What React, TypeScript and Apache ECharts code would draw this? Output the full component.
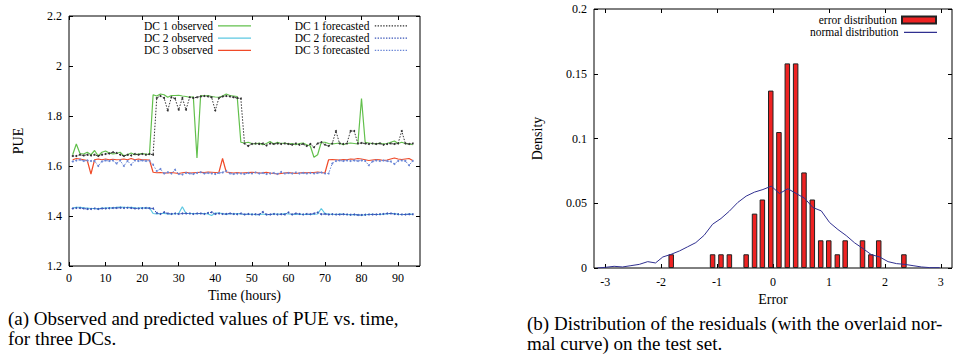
import React, { useEffect, useRef } from "react";
import * as echarts from "echarts";

const hours: number[] = Array.from({ length: 94 }, (_, i) => i + 1);

const dc1Observed = [
  1.645, 1.688, 1.65, 1.648, 1.655, 1.645, 1.662, 1.64, 1.655, 1.66,
  1.652, 1.648, 1.65, 1.655, 1.64, 1.645, 1.652, 1.645, 1.648, 1.65,
  1.648, 1.645, 1.885, 1.88, 1.888, 1.885, 1.875, 1.882, 1.882, 1.883,
  1.88, 1.878, 1.875, 1.877, 1.632, 1.882, 1.88, 1.882, 1.878, 1.876,
  1.875, 1.88, 1.888, 1.882, 1.88, 1.878, 1.695, 1.692, 1.695, 1.69,
  1.688, 1.692, 1.685, 1.69, 1.698, 1.688, 1.695, 1.69, 1.692, 1.688,
  1.69, 1.685, 1.69, 1.692, 1.685, 1.68, 1.635, 1.645, 1.695, 1.695,
  1.69, 1.688, 1.69, 1.692, 1.685, 1.69, 1.692, 1.69, 1.688, 1.87,
  1.695, 1.692, 1.69, 1.688, 1.692, 1.688, 1.69, 1.695, 1.7, 1.69,
  1.695, 1.69, 1.688, 1.685,
];
const dc1Forecast = [
  1.64, 1.64, 1.645, 1.642, 1.645, 1.642, 1.645, 1.64, 1.645, 1.648,
  1.65, 1.655, 1.652, 1.645, 1.64, 1.645, 1.642, 1.648, 1.645, 1.648,
  1.645, 1.648, 1.645, 1.872, 1.88, 1.872, 1.822, 1.875, 1.87, 1.825,
  1.872, 1.825, 1.875, 1.872, 1.875, 1.878, 1.88, 1.878, 1.875, 1.822,
  1.872, 1.878, 1.88, 1.878, 1.875, 1.872, 1.87, 1.69, 1.68, 1.688,
  1.69, 1.688, 1.69, 1.682, 1.69, 1.688, 1.69, 1.688, 1.69, 1.688,
  1.685, 1.69, 1.685, 1.688, 1.68, 1.688, 1.675, 1.69, 1.695, 1.685,
  1.68, 1.69, 1.74, 1.69, 1.688, 1.69, 1.74, 1.74, 1.69, 1.692,
  1.69, 1.688, 1.69, 1.688, 1.69, 1.685, 1.688, 1.69, 1.688, 1.69,
  1.74, 1.69, 1.688, 1.69,
];
const dc2Observed = [
  1.432, 1.435, 1.435, 1.433, 1.432, 1.43, 1.43, 1.428, 1.432, 1.432,
  1.433, 1.432, 1.435, 1.436, 1.435, 1.434, 1.435, 1.433, 1.432, 1.433,
  1.432, 1.433, 1.41, 1.408, 1.41, 1.41, 1.408, 1.408, 1.409, 1.41,
  1.437, 1.41, 1.41, 1.41, 1.409, 1.41, 1.41, 1.408, 1.402, 1.412,
  1.412, 1.41, 1.406, 1.41, 1.408, 1.41, 1.408, 1.407, 1.406, 1.408,
  1.405, 1.405, 1.408, 1.405, 1.406, 1.408, 1.408, 1.407, 1.41, 1.408,
  1.407, 1.406, 1.408, 1.406, 1.407, 1.406, 1.407, 1.408, 1.43, 1.41,
  1.408, 1.407, 1.406, 1.408, 1.407, 1.406, 1.405, 1.406, 1.405, 1.403,
  1.405, 1.406, 1.407, 1.406, 1.406, 1.408, 1.408, 1.41, 1.41, 1.407,
  1.406, 1.406, 1.408, 1.407,
];
const dc2Forecast = [
  1.43, 1.432, 1.432, 1.43, 1.428, 1.428, 1.43, 1.428, 1.43, 1.43,
  1.431, 1.432, 1.432, 1.433, 1.432, 1.433, 1.432, 1.43, 1.43, 1.431,
  1.432, 1.431, 1.43, 1.412, 1.408, 1.415, 1.41, 1.408, 1.41, 1.408,
  1.41, 1.41, 1.41, 1.408, 1.41, 1.41, 1.408, 1.412, 1.415, 1.408,
  1.41, 1.408, 1.408, 1.41, 1.408, 1.407, 1.41, 1.406, 1.408, 1.406,
  1.407, 1.406, 1.416, 1.406, 1.406, 1.408, 1.406, 1.407, 1.406, 1.414,
  1.406, 1.41, 1.408, 1.406, 1.408, 1.407, 1.41, 1.414, 1.407, 1.408,
  1.406, 1.407, 1.406, 1.406, 1.407, 1.406, 1.405, 1.406, 1.404, 1.404,
  1.405, 1.406, 1.406, 1.406, 1.407, 1.408, 1.41, 1.41, 1.408, 1.407,
  1.406, 1.406, 1.407, 1.407,
];
const dc3Observed = [
  1.625, 1.63, 1.628, 1.625, 1.622, 1.568, 1.625, 1.628, 1.625, 1.628,
  1.625, 1.627, 1.625, 1.626, 1.628, 1.625, 1.63, 1.625, 1.628, 1.625,
  1.625, 1.624, 1.575, 1.573, 1.574, 1.572, 1.572, 1.574, 1.572, 1.57,
  1.573, 1.575, 1.572, 1.573, 1.574, 1.575, 1.574, 1.576, 1.575, 1.574,
  1.575, 1.63, 1.576, 1.574, 1.572, 1.574, 1.572, 1.573, 1.574, 1.575,
  1.574, 1.572, 1.573, 1.575, 1.572, 1.57, 1.568, 1.57, 1.572, 1.574,
  1.572, 1.57, 1.572, 1.574, 1.573, 1.574, 1.574, 1.576, 1.574, 1.572,
  1.625, 1.626, 1.625, 1.624, 1.626, 1.625, 1.628, 1.627, 1.63, 1.628,
  1.625, 1.622, 1.624, 1.626, 1.625, 1.622, 1.624, 1.628, 1.632, 1.628,
  1.626, 1.628, 1.63, 1.622,
];
const dc3Forecast = [
  1.618, 1.622, 1.625, 1.62, 1.622, 1.62, 1.62, 1.6, 1.618, 1.622,
  1.62, 1.622, 1.61, 1.622, 1.6, 1.62, 1.605, 1.622, 1.62, 1.622,
  1.62, 1.621, 1.605, 1.58, 1.588, 1.57, 1.575, 1.57, 1.585, 1.568,
  1.566, 1.572, 1.57, 1.568, 1.572, 1.575, 1.57, 1.572, 1.57, 1.568,
  1.572, 1.574, 1.58, 1.57, 1.568, 1.57, 1.57, 1.568, 1.572, 1.57,
  1.574, 1.57, 1.572, 1.568, 1.57, 1.572, 1.568, 1.576, 1.57, 1.572,
  1.57, 1.574, 1.57, 1.572, 1.57, 1.572, 1.57, 1.572, 1.574, 1.57,
  1.57, 1.61, 1.62, 1.622, 1.62, 1.622, 1.62, 1.622, 1.62, 1.622,
  1.62, 1.603, 1.618, 1.622, 1.62, 1.622, 1.62, 1.618, 1.608, 1.62,
  1.622, 1.62, 1.603, 1.62,
];

const timeTicks = [0, 10, 20, 30, 40, 50, 60, 70, 80, 90];

const errorBins = [
  -1.82, -1.08, -0.93, -0.78, -0.48, -0.33, -0.19, -0.04, 0.106, 0.256,
  0.405, 0.554, 0.703, 0.853, 0.997, 1.15, 1.29, 1.6, 1.75, 1.89, 2.34,
];
const errorDensity = [
  0.0106, 0.0106, 0.0106, 0.0106, 0.0106, 0.042, 0.0529, 0.137, 0.105, 0.158,
  0.158, 0.0738, 0.0529, 0.0214, 0.0214, 0.0106, 0.0214, 0.0214, 0.0106, 0.0214,
  0.0106,
];
const curveX = [
  -3.14, -3.0, -2.84, -2.69, -2.54, -2.39, -2.24, -2.1, -1.97, -1.82,
  -1.67, -1.53, -1.38, -1.23, -1.08, -0.93, -0.78, -0.63, -0.48, -0.33,
  -0.18, -0.03, 0.116, 0.266, 0.415, 0.564, 0.713, 0.863, 1.012, 1.161,
  1.31, 1.46, 1.609, 1.758, 1.907, 2.057, 2.206, 2.355, 2.504, 2.654,
  2.803, 2.98,
];
const curveY = [
  0.0, 0.0005, 0.0013, 0.0008, 0.0018, 0.0028, 0.0049, 0.0039, 0.0085, 0.0106,
  0.0132, 0.0163, 0.0196, 0.0253, 0.0338, 0.0382, 0.0439, 0.0506, 0.0555, 0.0586,
  0.0606, 0.0632, 0.0575, 0.0612, 0.0575, 0.0539, 0.0467, 0.0441, 0.0351, 0.0297,
  0.025, 0.0194, 0.015, 0.0103, 0.0085, 0.0049, 0.0034, 0.0028, 0.0018, 0.0008,
  0.0003, 0.0003,
];
const errorTicks = [-3, -2, -1, 0, 1, 2, 3];

const FONT = "Liberation Serif";

const pair = (xs: number[], ys: number[]) => xs.map((x, i) => [x, ys[i]]);

// legend icon shapes (style only)
const SOLID_ICON = "path://M0,0H33V1.3H0Z";
const DOTTED_ICON =
  "path://" +
  Array.from({ length: 12 }, (_, i) => `M${i * 2.8},0h1.4v1.3h-1.4Z`).join("");

export default function App() {
  const ref = useRef<HTMLDivElement>(null);
  useEffect(() => {
    if (!ref.current) return;
    const chart = echarts.init(ref.current, undefined, { renderer: "svg" });
    const tick = { show: true, inside: true, length: 4, lineStyle: { color: "#000", width: 1 } };
    const lbl = { fontFamily: FONT, fontSize: 12, color: "#000" };
    const noLine = { show: false, onZero: false };
    const nameStyle = { fontFamily: FONT, fontSize: 14, color: "#000" };
    const legendText = { fontFamily: FONT, fontSize: 11.5, lineHeight: 11.5, color: "#000" };
    const legendRow = (name: string, icon: string, right: number, centerY: number, w: number, h: number) => ({
      data: [{ name, icon }],
      orient: "vertical",
      align: "right",
      right,
      top: centerY - 5.75,
      padding: 0,
      itemWidth: w,
      itemHeight: h,
      textStyle: legendText,
    });
    const lineSeries = (name: string, data: number[], color: string, dotted: boolean, z: number) => ({
      name,
      type: "line",
      xAxisIndex: 0,
      yAxisIndex: 0,
      data: pair(hours, data),
      showSymbol: dotted,
      symbol: dotted ? "circle" : "none",
      symbolSize: 2,
      itemStyle: { color },
      lineStyle: { color, width: dotted ? 1 : 1.2, type: dotted ? [1.5, 1.5] : "solid" },
      z,
    });
    const caption = (text: string, x: number, y: number) => ({
      type: "text",
      x,
      y,
      style: { text, font: `19px '${FONT}'`, fill: "#000", verticalAlign: "middle", align: "left" },
    });
    chart.setOption({
      animation: false,
      backgroundColor: "#fff",
      textStyle: { fontFamily: FONT },
      grid: [
        { left: 69, top: 16, width: 351, height: 250, show: true, borderColor: "#000", borderWidth: 1, backgroundColor: "transparent" },
        { left: 594, top: 9, width: 358, height: 259, show: true, borderColor: "#000", borderWidth: 1, backgroundColor: "transparent" },
      ],
      legend: [
        legendRow("DC 1 observed", SOLID_ICON, 707, 25.7, 33, 1.3),
        legendRow("DC 2 observed", SOLID_ICON, 707, 37.9, 33, 1.3),
        legendRow("DC 3 observed", SOLID_ICON, 707, 50.1, 33, 1.3),
        legendRow("DC 1 forecasted", DOTTED_ICON, 551, 25.7, 33, 1.3),
        legendRow("DC 2 forecasted", DOTTED_ICON, 551, 37.9, 33, 1.3),
        legendRow("DC 3 forecasted", DOTTED_ICON, 551, 50.1, 33, 1.3),
        legendRow("error distribution", "rect", 21, 19.8, 34, 7),
        legendRow("normal distribution", SOLID_ICON, 21, 32.2, 34, 1.3),
      ],
      xAxis: [
        {
          type: "value", gridIndex: 0, min: 0, max: 96, position: "bottom",
          name: "Time (hours)", nameLocation: "middle", nameGap: 22,
          nameTextStyle: nameStyle,
          axisLine: noLine, splitLine: { show: false },
          axisTick: { ...tick, customValues: timeTicks },
          axisLabel: { ...lbl, margin: 6, customValues: timeTicks },
        },
        {
          type: "value", gridIndex: 0, min: 0, max: 96, position: "top",
          axisLine: noLine, splitLine: { show: false },
          axisTick: { ...tick, customValues: timeTicks },
          axisLabel: { show: false },
        },
        {
          type: "value", gridIndex: 1, min: -3.2, max: 3.2, position: "bottom",
          name: "Error", nameLocation: "middle", nameGap: 24,
          nameTextStyle: nameStyle,
          axisLine: noLine, splitLine: { show: false },
          axisTick: { ...tick, customValues: errorTicks },
          axisLabel: { ...lbl, margin: 8, customValues: errorTicks },
        },
        {
          type: "value", gridIndex: 1, min: -3.2, max: 3.2, position: "top",
          axisLine: noLine, splitLine: { show: false },
          axisTick: { ...tick, customValues: errorTicks },
          axisLabel: { show: false },
        },
      ],
      yAxis: [
        {
          type: "value", gridIndex: 0, min: 1.2, max: 2.2, interval: 0.2, position: "left",
          name: "PUE", nameLocation: "middle", nameGap: 44, nameRotate: 90,
          nameTextStyle: nameStyle,
          axisLine: noLine, splitLine: { show: false },
          axisTick: tick, axisLabel: { ...lbl, margin: 7 },
        },
        {
          type: "value", gridIndex: 0, min: 1.2, max: 2.2, interval: 0.2, position: "right",
          axisLine: noLine, splitLine: { show: false },
          axisTick: tick, axisLabel: { show: false },
        },
        {
          type: "value", gridIndex: 1, min: 0, max: 0.2, interval: 0.05, position: "left",
          name: "Density", nameLocation: "middle", nameGap: 50, nameRotate: 90,
          nameTextStyle: nameStyle,
          axisLine: noLine, splitLine: { show: false },
          axisTick: tick, axisLabel: { ...lbl, margin: 7 },
        },
        {
          type: "value", gridIndex: 1, min: 0, max: 0.2, interval: 0.05, position: "right",
          axisLine: noLine, splitLine: { show: false },
          axisTick: tick, axisLabel: { show: false },
        },
      ],
      series: [
        lineSeries("DC 1 observed", dc1Observed, "#62c04c", false, 3),
        lineSeries("DC 2 observed", dc2Observed, "#5cc8e2", false, 3),
        lineSeries("DC 3 observed", dc3Observed, "#f04a28", false, 3),
        lineSeries("DC 1 forecasted", dc1Forecast, "#333333", true, 4),
        lineSeries("DC 2 forecasted", dc2Forecast, "#3a55b8", true, 4),
        lineSeries("DC 3 forecasted", dc3Forecast, "#6a86d6", true, 4),
        {
          name: "error distribution",
          type: "bar",
          xAxisIndex: 2,
          yAxisIndex: 2,
          data: pair(errorBins, errorDensity),
          barWidth: 5.5,
          itemStyle: { color: "#ee2222", borderColor: "#222", borderWidth: 1 },
          z: 2,
        },
        {
          name: "normal distribution",
          type: "line",
          xAxisIndex: 2,
          yAxisIndex: 2,
          data: pair(curveX, curveY),
          showSymbol: false,
          symbol: "none",
          itemStyle: { color: "#303090" },
          lineStyle: { color: "#303090", width: 1 },
          z: 3,
        },
      ],
      graphic: [
        caption("(a) Observed and predicted values of PUE vs. time,", 8, 318),
        caption("for three DCs.", 8, 338),
        caption("(b) Distribution of the residuals (with the overlaid nor-", 527, 323),
        caption("mal curve) on the test set.", 527, 343),
      ],
    });
    return () => chart.dispose();
  }, []);
  return <div ref={ref} style={{ position: "fixed", left: 0, top: 0, width: 958, height: 354 }} />;
}
